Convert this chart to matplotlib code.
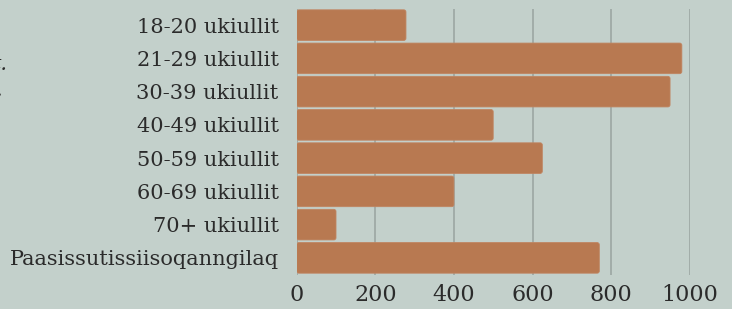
import matplotlib
matplotlib.use("Agg")
import matplotlib.pyplot as plt
from matplotlib.patches import FancyBboxPatch

# data
categories = ["18-20 ukiullit", "21-29 ukiullit", "30-39 ukiullit", "40-49 ukiullit",
              "50-59 ukiullit", "60-69 ukiullit", "70+ ukiullit", "Paasissutissiisoqanngilaq"]
values = [278, 980, 950, 500, 625, 400, 100, 770]
xticks = [0, 200, 400, 600, 800, 1000]

bg = "#c3d0cb"
bar_color = "#b87951"
grid_color = "#98a39f"
text_color = "#2b2b2b"

plt.rcParams["font.family"] = ["DejaVu Serif"]

W, H = 732, 309
fig = plt.figure(figsize=(W / 100, H / 100), dpi=100)
fig.patch.set_facecolor(bg)

# axes placed in pixel units
left, right, top, bottom = 296.7, 689.7, 8.5, 274.5
ax = fig.add_axes([left / W, 1 - bottom / H, (right - left) / W, (bottom - top) / H])
ax.set_facecolor(bg)

pos = list(range(len(categories)))
bars = ax.barh(pos, values, height=0.92, color=bar_color, zorder=2)

ax.set_xlim(0, 1000)
ax.set_ylim(len(categories) - 0.5, -0.5)

# swap the plain rectangles for slightly rounded ones (about 2px corners)
x_per_px = 1000 / (right - left)
y_per_px = len(categories) / (bottom - top)
for b in bars:
    rb = FancyBboxPatch((b.get_x(), b.get_y()), b.get_width(), b.get_height(),
                        boxstyle="round,pad=0,rounding_size=%f" % (2.2 * x_per_px),
                        mutation_aspect=y_per_px / x_per_px,
                        facecolor=bar_color, edgecolor="#c08460", linewidth=0.6, zorder=2)
    ax.add_patch(rb)
    b.remove()

ax.set_xticks(xticks)
ax.set_xticklabels([str(t) for t in xticks])
ax.set_yticks(pos)
ax.set_yticklabels(categories)

ax.grid(axis="x", color=grid_color, linewidth=1.1, zorder=1)
ax.grid(axis="y", visible=False)
for s in ax.spines.values():
    s.set_visible(False)

ax.tick_params(axis="both", length=0, labelsize=15, colors=text_color)
ax.tick_params(axis="y", pad=13)
ax.tick_params(axis="x", labelsize=16, pad=7)

# clipped fragment of text at left edge
fig.text(8 / W, 1 - 64 / H, "t.", ha="right", va="center", fontsize=15, color=text_color, style="italic")
fig.text(3 / W, 1 - 90 / H, ".", ha="right", va="center", fontsize=15, color=text_color)

fig.savefig("out.png", dpi=100, facecolor=bg)
